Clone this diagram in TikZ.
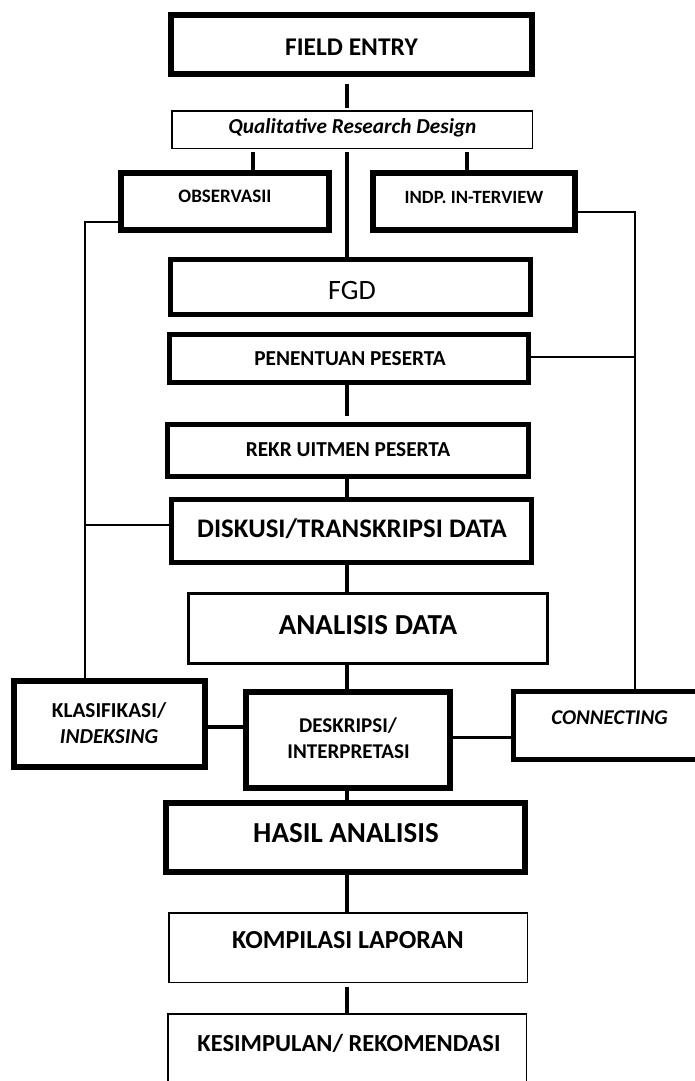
\documentclass[tikz,border=0pt]{standalone}
\usepackage{fontspec}
\setmainfont{Carlito}
\newcommand\fsz[1]{\fontsize{#1}{1.25\dimexpr #1pt\relax}\selectfont}
\begin{document}
\begin{tikzpicture}[x=1pt,y=-1pt,
  bx/.style={draw, inner sep=0pt},
  lbl/.style={inner sep=0pt, text depth=0pt, align=center, font=\bfseries},
  link/.style={line width=4pt},
  wire/.style={line width=2.5pt},
]
\clip (0,0) rectangle (695,1081);
\fill[white] (0,0) rectangle (695,1081);
% spine and branch x positions
\coordinate (sp) at (347,0);
\coordinate (ol) at (253,0);
\coordinate (il) at (467,0);
% boxes
\node[bx, line width=6pt, minimum width=361pt, minimum height=59pt] (fe) at (351.5,44.5) {};
\node[bx, line width=1.5pt, minimum width=360.5pt, minimum height=37.5pt] (qrd) at (352,129.5) {};
\node[bx, line width=6pt, minimum width=208pt, minimum height=57pt] (obs) at (225,201.5) {};
\node[bx, line width=6pt, minimum width=202pt, minimum height=57pt] (indp) at (474,201.5) {};
\node[bx, line width=5pt, minimum width=360pt, minimum height=55pt] (fgd) at (350.5,286.5) {};
\node[bx, line width=5pt, minimum width=359pt, minimum height=48pt] (pen) at (349,358.5) {};
\node[bx, line width=5pt, minimum width=361pt, minimum height=52pt] (rekr) at (348,450.5) {};
\node[bx, line width=5pt, minimum width=360pt, minimum height=63pt] (disk) at (351.5,531) {};
\node[bx, line width=3pt, minimum width=359pt, minimum height=70pt] (anal) at (368,628.5) {};
\node[bx, line width=6pt, minimum width=191pt, minimum height=86pt] (klas) at (109.5,724) {};
\node[bx, line width=6pt, minimum width=204pt, minimum height=96pt] (desk) at (348,740) {};
\node[bx, line width=5pt, minimum width=199pt, minimum height=68pt] (conn) at (613,725.5) {};
\node[bx, line width=6pt, minimum width=359pt, minimum height=69pt] (hasil) at (345.5,837.5) {};
\node[bx, line width=1.5pt, minimum width=358.5pt, minimum height=69.5pt] (komp) at (348,947.5) {};
\node[bx, line width=1.5pt, minimum width=358.5pt, minimum height=85.5pt] (kes) at (347,1056.5) {};
% texts
\node[lbl, font=\bfseries\fsz{25.5}] (fe-t) at (351.5,47) {FIELD ENTRY};
\node[lbl, font=\bfseries\itshape\fsz{21.3}] (qrd-t) at (352.5,126.5) {Qualitative Research Design};
\node[lbl, font=\bfseries\fsz{19}] (obs-t) at (225,196) {OBSERVASII};
\node[lbl, font=\bfseries\fsz{18.7}] (indp-t) at (474,197) {INDP. IN-TERVIEW};
\node[lbl, font=\mdseries\fsz{28}] (fgd-t) at (352,290) {FGD};
\node[lbl, font=\bfseries\fsz{21.3}] (pen-t) at (350,359) {PENENTUAN PESERTA};
\node[lbl, font=\bfseries\fsz{21.3}] (rekr-t) at (348,450) {REKR UITMEN PESERTA};
\node[lbl, font=\bfseries\fsz{26.8}] (disk-t) at (352,528) {DISKUSI/TRANSKRIPSI DATA};
\node[lbl, font=\bfseries\fsz{29}] (anal-t) at (368,625) {ANALISIS DATA};
\node[lbl, font=\bfseries\fsz{21.3}] (klas-t1) at (109,710) {KLASIFIKASI/};
\node[lbl, font=\bfseries\itshape\fsz{21.3}] (klas-t2) at (109,737) {INDEKSING};
\node[lbl, font=\bfseries\fsz{21}] (desk-t1) at (348,725) {DESKRIPSI/};
\node[lbl, font=\bfseries\fsz{21}] (desk-t2) at (348.5,752) {INTERPRETASI};
\node[lbl, font=\bfseries\itshape\fsz{21}] (conn-t) at (609.5,718) {CONNECTING};
\node[lbl, font=\bfseries\fsz{29}] (hasil-t) at (346,833) {HASIL ANALISIS};
\node[lbl, font=\bfseries\fsz{26}] (komp-t) at (348,940) {KOMPILASI LAPORAN};
\node[lbl, font=\bfseries\fsz{24.5}] (kes-t) at (349,1043) {KESIMPULAN/ REKOMENDASI};
% spine connectors
\draw[link, shorten <=7pt, shorten >=2pt] (fe.south -| sp) -- (qrd.north -| sp);
\draw[link, shorten <=3pt] (qrd.south -| ol) -- (obs.north -| ol);
\draw[link, shorten <=3pt] (qrd.south -| il) -- (indp.north -| il);
\draw[link, shorten <=3pt] (qrd.south -| sp) -- (fgd.north -| sp);
\draw[link, shorten >=6pt] (pen.south -| sp) -- (rekr.north -| sp);
\draw[link] (rekr.south -| sp) -- (disk.north -| sp);
\draw[link] (disk.south -| sp) -- (anal.north -| sp);
\draw[link] (anal.south -| sp) -- (desk.north -| sp);
\draw[link] (desk.south -| sp) -- (hasil.north -| sp);
\draw[link] (hasil.south -| sp) -- (komp.north -| sp);
\draw[link, shorten <=4pt] (komp.south -| sp) -- (kes.north -| sp);
% outer wires
\coordinate (lt) at (85,222);
\coordinate (lj) at (85,525);
\coordinate (rt) at (635,212);
\coordinate (rj) at (635,357);
\coordinate (kd) at (0,727);
\coordinate (dc) at (0,737);
\draw[wire] (obs.west |- lt) -- (lt) -- (lt |- klas.north);
\draw[wire] (lj) -- (disk.west |- lj);
\draw[wire] (indp.east |- rt) -- (rt) -- (rt |- conn.north);
\draw[wire] (pen.east |- rj) -- (rj);
\draw[link] (klas.east |- kd) -- (desk.west |- kd);
\draw[line width=3pt] (desk.east |- dc) -- (conn.west |- dc);
\end{tikzpicture}
\end{document}
